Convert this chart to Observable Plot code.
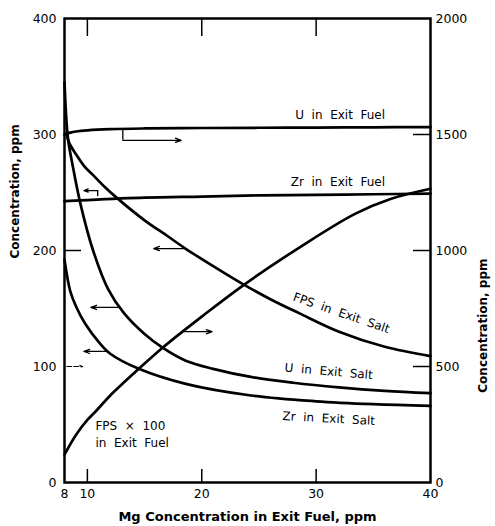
<!DOCTYPE html>
<html><head><meta charset="utf-8">
<script src="https://cdn.jsdelivr.net/npm/d3@7"></script>
<script src="https://cdn.jsdelivr.net/npm/@observablehq/plot@0.6"></script>
<style>body{margin:0;background:#fff}</style>
</head><body><div id="chart"></div>
<script>
// ---- data (x = Mg concentration in exit fuel, ppm) ----
// right-axis series are in right-axis units (0–2000), left-axis series in 0–400
const uFuelX = [8, 8.5, 9, 10, 12, 15, 20, 25, 30, 35, 40];
const uFuelY = [1500, 1508, 1513, 1518, 1523, 1526, 1528, 1529, 1530, 1531, 1532]; // right axis
const zrFuelX = [8, 10, 15, 20, 25, 30, 35, 40];
const zrFuelY = [242.5, 243.5, 245.5, 246.5, 247.5, 248, 248.5, 249]; // left axis
const fpsSaltX = [8.2, 8.4, 9, 9.7, 10.5, 11.5, 12.5, 15, 17, 18.6, 21, 23.6, 26, 28.5, 32, 36, 40];
const fpsSaltY = [300, 293, 283, 273, 265, 255, 246, 226, 212.5, 201.5, 186.5, 171, 158, 146, 130, 117, 109]; // left
const uSaltX = [8, 8.3, 8.7, 9.4, 10.5, 11.8, 13.2, 15, 16.6, 18.6, 21, 24.3, 28, 32, 36, 40];
const uSaltY = [345, 297, 274, 240, 200, 167, 146, 128, 116, 105, 98, 91, 86, 82, 79, 77]; // left
const zrSaltX = [8, 8.5, 9, 9.8, 11, 12, 14.5, 18.6, 24.3, 30, 35, 40];
const zrSaltY = [192, 165, 152, 137, 121, 111, 98, 85, 75, 70, 67.5, 66]; // left
const fpsFuelX = [8, 9, 10, 10.7, 12, 14.5, 16.6, 20, 23.6, 28.6, 33.4, 36.5, 40];
const fpsFuelY = [120, 205, 270, 305, 375, 490, 582, 715, 849, 1015, 1158, 1222, 1266]; // right

const leftTicks = [0, 100, 200, 300, 400];
const rightTicks = [0, 500, 1000, 1500, 2000];
const xTicks = [8, 10, 20, 30, 40];
const innerXTicks = [10, 20, 30];
const RIGHT_PER_LEFT = 5;

// axis indicator arrows (left-axis units)
const arrowX1 = [13.1, 10.9, 18.4, 12.7, 11.6, 18.5, 8.2];
const arrowX2 = [18.2, 9.7, 15.8, 10.3, 9.7, 20.9, 9.6];
const arrowY  = [295, 251.7, 201.7, 151, 113, 130, 100];
const elbowX  = [13.1, 10.9];
const elbowY1 = [304, 246.5];
const elbowY2 = [295, 251.7];

// curve labels
const labelText = ["U  in  Exit  Fuel", "Zr  in  Exit  Fuel", "FPS  in  Exit  Salt", "U  in  Exit  Salt", "Zr  in  Exit  Salt"];
const labelX = [32.1, 31.9, 32.2, 31.1, 31.1];
const labelY = [317, 258.6, 146, 95.7, 55];
const labelRot = [0, 0, 19, 5, 3];

// ---- build tables ----
const series = [];
function add(name, xs, ys, axis) {
  xs.forEach((x, i) => series.push({name, x, y: axis === "right" ? ys[i] / RIGHT_PER_LEFT : ys[i]}));
}
add("U in Exit Fuel", uFuelX, uFuelY, "right");
add("Zr in Exit Fuel", zrFuelX, zrFuelY, "left");
add("FPS in Exit Salt", fpsSaltX, fpsSaltY, "left");
add("U in Exit Salt", uSaltX, uSaltY, "left");
add("Zr in Exit Salt", zrSaltX, zrSaltY, "left");
add("FPS x 100 in Exit Fuel", fpsFuelX, fpsFuelY, "right");

const arrows = arrowX1.map((x1, i) => ({x1, x2: arrowX2[i], y: arrowY[i], dashed: i === 6}));
const elbows = elbowX.map((x, i) => ({x, y1: elbowY1[i], y2: elbowY2[i]}));
const labels = labelText.map((t, i) => ({t, x: labelX[i], y: labelY[i], r: labelRot[i]}));

const font = "DejaVu Sans, sans-serif";

const chart = Plot.plot({
  width: 495,
  height: 526,
  marginLeft: 64,
  marginRight: 65,
  marginTop: 18,
  marginBottom: 44,
  style: {fontFamily: font, fontSize: "12px", color: "black", background: "white"},
  x: {domain: [8, 40]},
  y: {domain: [0, 400]},
  marks: [
    // tick labels
    Plot.axisX({ticks: xTicks, tickSize: 0, tickPadding: 7, label: null, fontSize: 12.5}),
    Plot.axisY({anchor: "left", ticks: leftTicks, tickSize: 0, tickPadding: 8, label: null, fontSize: 12.5}),
    Plot.axisY({anchor: "right", ticks: rightTicks.map(v => v / RIGHT_PER_LEFT), tickFormat: d => String(d * RIGHT_PER_LEFT), tickSize: 0, tickPadding: 5, label: null, fontSize: 12.5}),
    // inward tick marks
    Plot.axisX({anchor: "top", ticks: innerXTicks, tickSize: -17, tickFormat: () => "", label: null, strokeWidth: 1.5}),
    Plot.axisX({anchor: "bottom", ticks: innerXTicks, tickSize: -13, tickFormat: () => "", label: null, strokeWidth: 1.5}),
    Plot.axisY({anchor: "left", ticks: [200], tickSize: -17, tickFormat: () => "", label: null, strokeWidth: 1.5}),
    Plot.axisY({anchor: "right", ticks: rightTicks.slice(1, 4).map(v => v / RIGHT_PER_LEFT), tickSize: -18, tickFormat: () => "", label: null, strokeWidth: 1.5}),
    // axis titles
    Plot.text(["Mg Concentration in Exit Fuel, ppm"], {frameAnchor: "bottom", dy: 38, fontWeight: "bold", fontSize: 13}),
    Plot.text(["Concentration, ppm"], {frameAnchor: "left", rotate: -90, dx: -49, dy: 8, fontWeight: "bold", fontSize: 12}),
    Plot.text(["Concentration, ppm"], {frameAnchor: "right", rotate: -90, dx: 53, dy: 8, fontWeight: "bold", fontSize: 12}),
    // curves
    Plot.line(series, {x: "x", y: "y", z: "name", curve: "catmull-rom", stroke: "black", strokeWidth: 2.7}),
    // arrows
    Plot.ruleX(elbows, {x: "x", y1: "y1", y2: "y2", stroke: "black", strokeWidth: 1.3}),
    Plot.arrow(arrows.filter(d => !d.dashed), {x1: "x1", x2: "x2", y1: "y", y2: "y", stroke: "black", strokeWidth: 1.3, headLength: 7, headAngle: 40}),
    Plot.arrow(arrows.filter(d => d.dashed), {x1: "x1", x2: "x2", y1: "y", y2: "y", stroke: "black", strokeWidth: 1, strokeDasharray: "5,2", headLength: 5, headAngle: 40}),
    // curve labels
    Plot.text(labels, {x: "x", y: "y", text: "t", rotate: "r", fontSize: 12, letterSpacing: 1.5}),
    Plot.text(["FPS  \u00d7  100\nin  Exit  Fuel"], {x: [10.7], y: [56], textAnchor: "start", lineAnchor: "top", lineHeight: 1.45, fontSize: 12, letterSpacing: 1.6}),
    Plot.frame({stroke: "black", strokeWidth: 2.5})
  ]
});
document.getElementById("chart").appendChild(chart);
</script>
</body></html>
